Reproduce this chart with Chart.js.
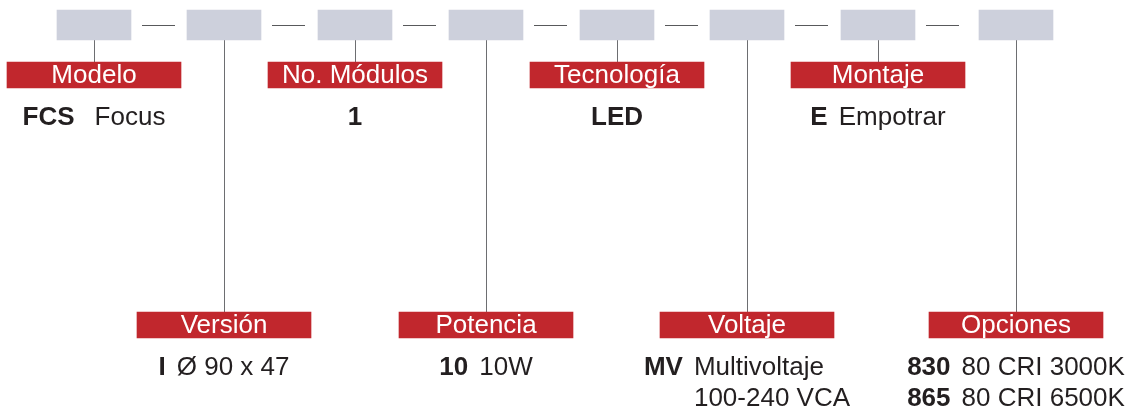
<!DOCTYPE html>
<html>
<head>
<meta charset="utf-8">
<script src="https://cdn.jsdelivr.net/npm/chart.js@4/dist/chart.umd.min.js"></script>
<style>
  body { margin: 0; background: #fff; }
  canvas { display: block; }
</style>
</head>
<body>
<canvas id="chart" width="1131" height="411"></canvas>
<script>
"use strict"

// segments of the product code, left to right
const segments = ["Modelo", "Versión", "No. Módulos", "Potencia", "Tecnología", "Voltaje", "Montaje", "Opciones"];
// code values for each segment (one per line)
const codes = [["FCS"], ["I"], ["1"], ["10"], ["LED"], ["MV", ""], ["E"], ["830", "865"]];
// meaning of each code (one per line)
const descriptions = [["Focus"], ["Ø 90 x 47"], [""], ["10W"], [""], ["Multivoltaje", "100-240 VCA"], ["Empotrar"], ["80 CRI 3000K", "80 CRI 6500K"]];

// layout (pixels on the hidden linear scales)
const boxCenters = [94, 224, 355, 486, 617, 747, 878, 1016];
const boxTop = 10, boxBottom = 40, boxWidth = 74;
const labelWidth = 174;
const upperLabel = [62, 88], lowerLabel = [312, 338];

const red = "#C1272D";
const grey = "#CDD0DC";
const ink = "#231F20";
const fontFamily = "'Liberation Sans', Arial, sans-serif";

function isUpper(i) {
    return i % 2 === 0;
}

const boxData = boxCenters.map(function (x) {
    return { x: x, y: [boxTop, boxBottom] };
});
const labelData = boxCenters.map(function (x, i) {
    return { x: x, y: isUpper(i) ? upperLabel : lowerLabel };
});

const diagramPlugin = {
    id: "diagram",
    beforeDatasetsDraw(chart) {
        const ctx = chart.ctx;
        const xs = chart.scales.x;
        const ys = chart.scales.y;
        ctx.save();
        // connectors from boxes to labels
        ctx.strokeStyle = "#6D6E71";
        ctx.lineWidth = 1;
        for (let i = 0; i < boxCenters.length; i++) {
            const px = Math.round(xs.getPixelForValue(boxCenters[i])) + 0.5;
            const end = isUpper(i) ? upperLabel[0] : lowerLabel[0];
            ctx.beginPath();
            ctx.moveTo(px, ys.getPixelForValue(boxBottom));
            ctx.lineTo(px, ys.getPixelForValue(end));
            ctx.stroke();
        }
        // dashes between boxes
        ctx.strokeStyle = "#58595B";
        const dy = Math.round(ys.getPixelForValue((boxTop + boxBottom) / 2)) + 0.5;
        for (let i = 0; i < boxCenters.length - 1; i++) {
            const right = boxCenters[i] + boxWidth / 2;
            ctx.beginPath();
            ctx.moveTo(xs.getPixelForValue(right + 11), dy);
            ctx.lineTo(xs.getPixelForValue(right + 44), dy);
            ctx.stroke();
        }
        ctx.restore();
    },
    afterDatasetsDraw(chart) {
        const ctx = chart.ctx;
        const xs = chart.scales.x;
        const ys = chart.scales.y;
        ctx.save();
        ctx.textBaseline = "alphabetic";
        for (let i = 0; i < segments.length; i++) {
            const cx = xs.getPixelForValue(boxCenters[i]);
            const lbl = isUpper(i) ? upperLabel : lowerLabel;
            // label on red bar
            ctx.fillStyle = "#fff";
            ctx.font = "26px " + fontFamily;
            ctx.textAlign = "center";
            ctx.fillText(segments[i], cx, ys.getPixelForValue(lbl[1] - 5));

            // code + description block, centred under the label
            ctx.textAlign = "left";
            ctx.font = "bold 26px " + fontFamily;
            let codeW = 0;
            codes[i].forEach(function (c) { codeW = Math.max(codeW, ctx.measureText(c).width); });
            ctx.font = "26px " + fontFamily;
            let descW = 0;
            descriptions[i].forEach(function (d) { descW = Math.max(descW, ctx.measureText(d).width); });
            const gap = descW > 0 ? (i === 0 ? 20 : 11) : 0;
            const left = cx - (codeW + gap + descW) / 2;
            const firstLine = isUpper(i) ? 125 : 375;
            for (let k = 0; k < codes[i].length; k++) {
                const py = ys.getPixelForValue(firstLine + k * 31);
                ctx.fillStyle = ink;
                ctx.font = "bold 26px " + fontFamily;
                ctx.fillText(codes[i][k], left, py);
                ctx.font = "26px " + fontFamily;
                ctx.fillText(descriptions[i][k] || "", left + codeW + gap, py);
            }
        }
        ctx.restore();
    }
};

const config = {
    type: "bar",
    data: {
        datasets: [
            {
                label: "codigo",
                data: boxData,
                backgroundColor: grey,
                barThickness: boxWidth,
                grouped: false,
                borderWidth: 0,
            },
            {
                label: "segmento",
                data: labelData,
                backgroundColor: red,
                barThickness: labelWidth,
                grouped: false,
                borderWidth: 0,
            },
        ]
    },
    options: {
        responsive: false,
        animation: false,
        devicePixelRatio: 1,
        layout: { padding: 0 },
        scales: {
            x: { type: "linear", min: 0, max: 1131, offset: false, display: false },
            y: { type: "linear", min: 0, max: 411, reverse: true, display: false },
        },
        plugins: {
            legend: { display: false },
            tooltip: { enabled: false },
        },
    },
    plugins: [diagramPlugin],
};

const productChart = document.getElementById("chart");
const myChart = new Chart(productChart, config);
</script>
</body>
</html>
